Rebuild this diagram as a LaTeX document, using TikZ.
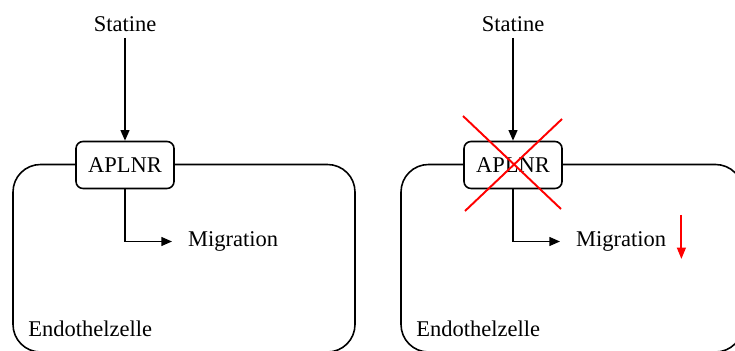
\documentclass[tikz,border=0pt]{standalone}
\usepackage{fontspec}
\setmainfont{Liberation Serif}
\definecolor{LineColor}{RGB}{0,0,0}
\definecolor{BlockColor}{RGB}{255,0,0}
\usepackage{tikz}
\usetikzlibrary{positioning, arrows.meta, calc}
\tikzstyle{arrow} = [line width=0.9pt, LineColor, -{Triangle[length=6pt, width=5pt]}]
\tikzstyle{receptor} = [rectangle, rounded corners=4pt, draw=LineColor, line width=0.9pt, fill=white, minimum width=1.96cm, minimum height=0.94cm]
\tikzstyle{cell} = [rectangle, rounded corners=0.55cm, draw=LineColor, line width=0.9pt, minimum width=6.84cm, minimum height=3.75cm]
\tikzstyle{cross} = [line width=1.1pt, BlockColor]
\tikzstyle{decrease} = [line width=1.1pt, BlockColor, -{Triangle[length=6.5pt, width=5pt]}]

\begin{document}
\begin{tikzpicture}[font=\rmfamily\fontsize{12.8}{15}\selectfont]
            \path[use as bounding box, clip] (0,0) rectangle (14.7,7.02);

            % With receptor
            \node[cell] (cell1) at (3.68,1.855) {};
            \node[anchor=base west] (endo1) at (0.443,0.28) {Endothelzelle};
            \node[anchor=base] (stat1) at (2.5,6.39) {Statine};
            \node[receptor] (aplnr1) at (2.5,3.72) {APLNR};
            \node[anchor=west] (mig1) at (3.64,2.19) {Migration};
            \draw[arrow] (stat1) -- (aplnr1);
            \draw[arrow, shorten >=0.2cm] (aplnr1) |- (mig1);

            % Receptor blocked
            \node[cell] (cell2) at (11.44,1.855) {};
            \node[anchor=base west] (endo2) at (8.203,0.28) {Endothelzelle};
            \node[anchor=base] (stat2) at (10.26,6.39) {Statine};
            \node[receptor] (aplnr2) at (10.26,3.72) {APLNR};
            \node[anchor=west] (mig2) at (11.40,2.19) {Migration};
            \draw[arrow] (stat2) -- (aplnr2);
            \draw[arrow, shorten >=0.2cm] (aplnr2) |- (mig2);
            \draw[cross] ($(aplnr2)+(-1.0,0.98)$) -- ($(aplnr2)+(0.96,-0.88)$);
            \draw[cross] ($(aplnr2)+(0.98,0.92)$) -- ($(aplnr2)+(-0.96,-0.92)$);
            \draw[decrease] ($(mig2.east)+(0.18,0.53)$) -- ++(0,-0.88);
        \end{tikzpicture}
\end{document}
